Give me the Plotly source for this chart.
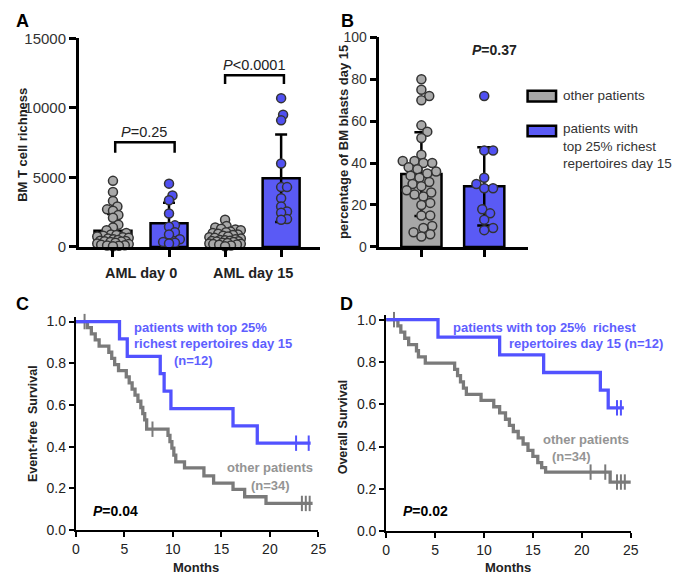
import numpy as np
import plotly.graph_objects as go

# ---- panel A: BM T cell richness ----
a_oth_d0 = [4750, 3950, 3300, 2900, 2700, 2600, 2300, 2100, 1600, 1400, 1200, 1000,
            900, 850, 800, 750, 700, 650, 600, 550, 500, 450, 420, 400, 380, 350,
            300, 250, 200, 150, 120, 100, 80, 50]
a_rich_d0 = [4550, 3700, 3350, 2400, 1550, 1450, 1050, 900, 550, 350, 300, 250]
a_oth_d15 = [1950, 1500, 1400, 1300, 1250, 1200, 1100, 1050, 1000, 950, 900, 850,
             800, 750, 700, 650, 600, 550, 500, 480, 450, 420, 400, 380, 350, 300,
             280, 250, 220, 200, 180, 150, 100, 50]
a_rich_d15 = [10700, 9500, 9100, 6000, 4300, 4300, 3500, 2900, 2550, 2450, 2000, 1950]
a_groups = ["AML day 0", "AML day 15"]

# ---- panel B: % BM blasts day 15 ----
b_oth = [80, 75, 72, 70, 58, 55, 52, 44, 41, 41, 40, 40, 38, 37, 36, 35, 34, 33,
         31, 30, 29, 27, 26, 25, 24, 21, 20, 15, 15, 10, 9, 7, 6, 5]
b_rich = [72, 46, 46, 33, 30, 28, 28, 18, 16, 13, 9, 8]

# ---- panel C: event-free survival (Kaplan-Meier steps) ----
efs_oth_t = [0, 1.2, 1.6, 2.0, 2.4, 3.4, 3.7, 4.0, 4.4, 5.2, 5.5, 5.8, 6.1, 6.4, 6.7,
             6.9, 7.1, 7.3, 9.5, 9.7, 9.9, 10.1, 10.3, 11.2, 13.2, 14.2, 16.2, 17.4,
             19.6, 24.4]
efs_oth_s = [1.0, 0.971, 0.941, 0.912, 0.882, 0.853, 0.824, 0.794, 0.765, 0.735,
             0.706, 0.676, 0.647, 0.618, 0.588, 0.559, 0.529, 0.484, 0.454, 0.424,
             0.393, 0.36, 0.327, 0.299, 0.26, 0.225, 0.195, 0.16, 0.128, 0.128]
efs_oth_cens = [0.9, 7.9, 23.3, 23.7, 24.1]
efs_rich_t = [0, 4.5, 5.3, 8.7, 9.1, 9.8, 16.2, 18.7, 24.2]
efs_rich_s = [1.0, 0.917, 0.833, 0.75, 0.667, 0.583, 0.5, 0.417, 0.417]
efs_rich_cens = [22.7, 24.0]

# ---- panel D: overall survival ----
os_oth_t = [0, 1.2, 1.5, 1.9, 2.3, 3.1, 3.3, 4.0, 7.0, 7.3, 7.6, 7.9, 8.2, 9.7, 11.0,
            11.6, 12.2, 12.6, 13.0, 13.5, 14.0, 14.5, 15.0, 15.5, 15.9, 16.3, 22.9, 25.2]
os_oth_s = [1.0, 0.971, 0.941, 0.912, 0.882, 0.853, 0.824, 0.794, 0.765, 0.735, 0.706,
            0.676, 0.647, 0.618, 0.588, 0.559, 0.529, 0.5, 0.471, 0.441, 0.412, 0.382,
            0.353, 0.324, 0.3, 0.279, 0.232, 0.232]
os_oth_cens = [0.8, 20.9, 22.4, 23.6, 24.0, 24.4]
os_rich_t = [0, 5.3, 11.6, 16.1, 21.9, 22.7, 24.3]
os_rich_s = [1.0, 0.917, 0.833, 0.75, 0.667, 0.583, 0.583]
os_rich_cens = [23.6, 24.0]

FONT = "Liberation Sans, Arial, sans-serif"
GRAY_BAR = "#a7a7a7"
GRAY_DOT = "#a9a9a9"
BLUE_BAR = "#5a5af5"
BLUE_DOT = "#5050f2"
KM_BLUE = "#5252ff"
KM_GRAY = "#7a7a7a"
TXT_GRAY = "#949494"
TXT_BLUE = "#5e5eff"

# page body keeps its default 8px margin, so the figure is 16px smaller than the window
W, H, PAD = 669, 567, 8
KM_TOP = 1.02  # a bit of headroom so the lines at 1.0 are not clipped


def px(x):
    return (x - PAD) / W


def py(y):
    return 1 - (y - PAD) / H


def swarm(vals, ypx, xpx, gap, maxw):
    # deterministic beeswarm with a width cap: offsets in x-data units
    vals = np.asarray(vals, float)
    placed = []
    offs = np.zeros(len(vals))
    cands = [0.0]
    k = 1
    while k * 0.5 <= maxw:
        cands += [k * 0.5, -k * 0.5]
        k += 1
    for i in np.argsort(vals):
        y = vals[i] * ypx
        best, bestd = 0.0, -1
        for c in cands:
            d = min([np.hypot(c - p, y - q) for p, q in placed] or [1e9])
            if d >= gap:
                best = c
                break
            if d > bestd:
                best, bestd = c, d
        placed.append((best, y))
        offs[i] = best / xpx
    return offs


def surv_at(t, s, c):
    idx = np.searchsorted(t, c, side="right") - 1
    return [s[i] for i in idx]


fig = go.Figure()

# ---------- A ----------
a_sets = [(a_oth_d0, GRAY_BAR, GRAY_DOT), (a_rich_d0, BLUE_BAR, BLUE_DOT),
          (a_oth_d15, GRAY_BAR, GRAY_DOT), (a_rich_d15, BLUE_BAR, BLUE_DOT)]
for pos, (vals, bc, dc) in enumerate(a_sets):
    fig.add_trace(go.Bar(x=[pos], y=[np.mean(vals)], width=0.66, marker_color=bc,
                         marker_line=dict(color="black", width=2.5),
                         error_y=dict(type="data", array=[np.std(vals, ddof=1)],
                                      color="black", thickness=2.5, width=6),
                         xaxis="x", yaxis="y"))
for pos, (vals, bc, dc) in enumerate(a_sets):
    off = swarm(vals, 215 / 15000, 57, 6.0, 16)
    fig.add_trace(go.Scatter(x=pos + off, y=vals, mode="markers", cliponaxis=False,
                             marker=dict(size=9, color=dc, line=dict(color="#333", width=1.5)),
                             xaxis="x", yaxis="y"))

# ---------- B ----------
b_sets = [(b_oth, GRAY_BAR, GRAY_DOT), (b_rich, BLUE_BAR, BLUE_DOT)]
for pos, (vals, bc, dc) in enumerate(b_sets):
    fig.add_trace(go.Bar(x=[pos], y=[np.mean(vals)], width=0.64, marker_color=bc,
                         marker_line=dict(color="black", width=2.5),
                         error_y=dict(type="data", array=[np.std(vals, ddof=1)],
                                      color="black", thickness=2.5, width=7),
                         xaxis="x2", yaxis="y2"))
for pos, (vals, bc, dc) in enumerate(b_sets):
    off = swarm(vals, 2.16, 64, 8.8, 19)
    fig.add_trace(go.Scatter(x=pos + off, y=vals, mode="markers", cliponaxis=False,
                             marker=dict(size=9, color=dc, line=dict(color="#333", width=1.5)),
                             xaxis="x2", yaxis="y2"))

# ---------- C / D (KM) ----------
km = [("x3", "y3", efs_oth_t, efs_oth_s, efs_oth_cens, KM_GRAY),
      ("x3", "y3", efs_rich_t, efs_rich_s, efs_rich_cens, KM_BLUE),
      ("x4", "y4", os_oth_t, os_oth_s, os_oth_cens, KM_GRAY),
      ("x4", "y4", os_rich_t, os_rich_s, os_rich_cens, KM_BLUE)]
for xa, ya, t, s, cens, col in km:
    fig.add_trace(go.Scatter(x=t, y=s, mode="lines", line=dict(color=col, width=3.3, shape="hv"),
                             cliponaxis=False, xaxis=xa, yaxis=ya))
    fig.add_trace(go.Scatter(x=cens, y=surv_at(t, s, cens), mode="markers", cliponaxis=False,
                             marker=dict(symbol="line-ns", size=11, line=dict(color=col, width=2)),
                             xaxis=xa, yaxis=ya))

ax = dict(showline=True, linecolor="black", showgrid=False, zeroline=False,
          ticks="outside", tickcolor="black", fixedrange=True,
          tickfont=dict(family=FONT, size=13, color="#333"))
km_font = dict(family=FONT, size=14, color="#222")

# C/D plot areas: 1.0 sits at the reference pixel, the range goes slightly above it
c_top = 322 - (537 - 322) * (KM_TOP - 1)
d_top = 320 - (538 - 320) * (KM_TOP - 1)

fig.update_layout(
    width=W, height=H, margin=dict(l=0, r=0, t=0, b=0),
    paper_bgcolor="white", plot_bgcolor="white", showlegend=False,
    font=dict(family=FONT, color="#222"),
    xaxis=dict(ax, domain=[px(76), px(322)], range=[-0.61, 3.70], linewidth=2.5,
               tickvals=[0, 1, 2, 3], showticklabels=False, ticklen=7, tickwidth=2.5, anchor="y"),
    yaxis=dict(ax, domain=[py(245), py(30)], range=[0, 15000], tickvals=[0, 5000, 10000, 15000],
               tickformat="d", linewidth=2.5, ticklen=7, tickwidth=2.5, anchor="x",
               tickfont=dict(family=FONT, size=15, color="#333")),
    xaxis2=dict(ax, domain=[px(382), px(533)], range=[-0.67, 1.69], linewidth=2.5,
                tickvals=[0, 1], showticklabels=False, ticklen=7, tickwidth=2.5, anchor="y2"),
    yaxis2=dict(ax, domain=[py(245), py(29)], range=[0, 100], dtick=20,
                linewidth=2.5, ticklen=7, tickwidth=2.5, anchor="x2",
                tickfont=dict(family=FONT, size=14, color="#333")),
    xaxis3=dict(ax, domain=[px(73), px(320)], range=[0, 25], dtick=5, linewidth=2,
                ticklen=5, tickwidth=2, anchor="y3", tickfont=km_font),
    yaxis3=dict(ax, domain=[py(537), py(c_top)], range=[0, KM_TOP], tickvals=[0, 0.2, 0.4, 0.6, 0.8, 1.0],
                tickformat=".1f", linewidth=2, ticklen=5, tickwidth=2, anchor="x3", tickfont=km_font),
    xaxis4=dict(ax, domain=[px(389), px(638)], range=[0, 25], dtick=5, linewidth=2,
                ticklen=5, tickwidth=2, anchor="y4", tickfont=km_font),
    yaxis4=dict(ax, domain=[py(538), py(d_top)], range=[0, KM_TOP], tickvals=[0, 0.2, 0.4, 0.6, 0.8, 1.0],
                tickformat=".1f", linewidth=2, ticklen=5, tickwidth=2, anchor="x4", tickfont=km_font),
)

# A brackets
for x0, x1, ytop, ybot in [(0.04, 1.1, 7535, 6770), (2.0, 3.05, 12350, 11720)]:
    fig.add_shape(type="path", xref="x", yref="y",
                  path=f"M {x0},{ybot} L {x0},{ytop} L {x1},{ytop} L {x1},{ybot}",
                  line=dict(color="black", width=2.5))

# B legend swatches
for top, bot, col in [(84, 95, GRAY_BAR), (120, 131, BLUE_BAR)]:
    fig.add_shape(type="rect", xref="paper", yref="paper", x0=px(533), x1=px(562),
                  y0=py(bot), y1=py(top), fillcolor=col, line=dict(color="black", width=2.5))

ann = []


def note(text, x, y, xref="paper", yref="paper", size=13, color="#222", bold=False,
         xanchor="center", yanchor="middle", angle=0, align="center"):
    if bold:
        text = "<b>" + text + "</b>"
    ann.append(dict(text=text, x=x, y=y, xref=xref, yref=yref, showarrow=False,
                    xanchor=xanchor, yanchor=yanchor, textangle=angle, align=align,
                    font=dict(family=FONT, size=size, color=color)))


# panel letters
note("A", px(10), py(12), size=18, color="black", bold=True, xanchor="left")
note("B", px(341), py(12), size=18, color="black", bold=True, xanchor="left")
note("C", px(10), py(304), size=18, color="black", bold=True, xanchor="left")
note("D", px(340), py(304), size=18, color="black", bold=True, xanchor="left")

# axis titles
note("BM T cell richness", px(18), py(140), bold=True, angle=-90)
note("percentage of BM blasts day 15", px(345), py(137), bold=True, angle=-90)
note("Event-free  Survival", px(30), py(427), bold=True, angle=-90, size=12.5)
note("Overall Survival", px(345), py(430), bold=True, angle=-90, size=12.5)
note("Months", px(195), py(576), bold=True)
note("Months", px(513), py(576), bold=True)

# A category labels
note(a_groups[0], 0.5, py(272), xref="x", bold=True, size=14.5)
note(a_groups[1], 2.5, py(272), xref="x", bold=True, size=14.5)

# p values
note("<i>P</i>=0.25", 0.56, 8233, xref="x", yref="y", size=14.5)
note("<i>P</i><0.0001", 2.53, 13117, xref="x", yref="y", size=14.5)
note("<i>P</i>=0.37", 1.17, 94, xref="x2", yref="y2", size=14, bold=True)
note("<i>P</i>=0.04", 4.1, 0.093, xref="x3", yref="y3", size=14, bold=True, color="black")
note("<i>P</i>=0.02", 4.0, 0.096, xref="x4", yref="y4", size=14, bold=True, color="black")

# B legend text
note("other patients", px(567), py(89), xanchor="left", color="#333", size=13.5)
note("patients with<br>top 25% richest<br>repertoires day 15", px(567), py(141),
     xanchor="left", align="left", color="#333", size=13.5)

# C labels
note("patients with top 25%", 5.77, 0.972, xref="x3", yref="y3", bold=True, color=TXT_BLUE, xanchor="left")
note("richest repertoires day 15", 5.77, 0.893, xref="x3", yref="y3", bold=True, color=TXT_BLUE, xanchor="left")
note("(n=12)", 12.1, 0.814, xref="x3", yref="y3", bold=True, color=TXT_BLUE)
note("other patients", 20.0, 0.298, xref="x3", yref="y3", bold=True, color=TXT_GRAY)
note("(n=34)", 20.1, 0.214, xref="x3", yref="y3", bold=True, color=TXT_GRAY)

# D labels
note("patients with top 25%  richest", 6.63, 0.963, xref="x4", yref="y4", bold=True, color=TXT_BLUE, xanchor="left")
note("repertoires day 15 (n=12)", 12.35, 0.885, xref="x4", yref="y4", bold=True, color=TXT_BLUE, xanchor="left")
note("other patients", 20.4, 0.431, xref="x4", yref="y4", bold=True, color=TXT_GRAY)
note("(n=34)", 18.9, 0.353, xref="x4", yref="y4", bold=True, color=TXT_GRAY)

fig.update_layout(annotations=ann)
fig.write_html("out.html")
